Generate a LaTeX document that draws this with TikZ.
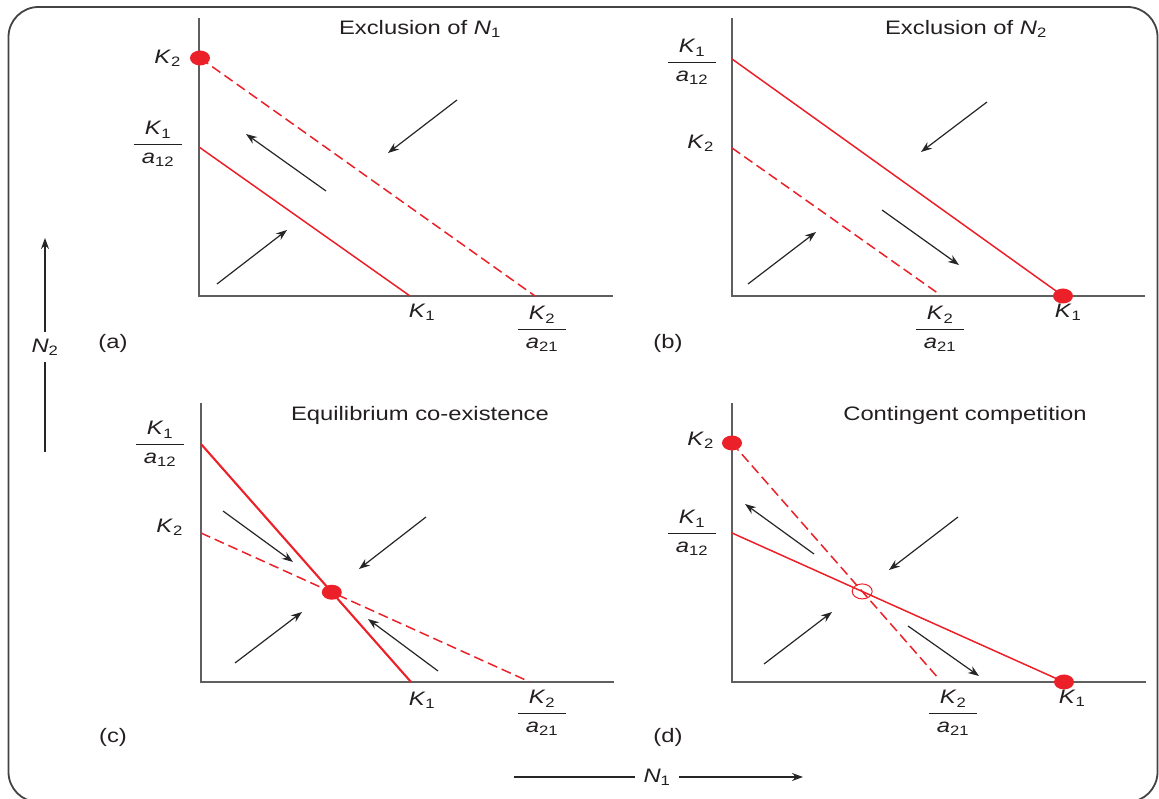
\documentclass[tikz,border=0pt]{standalone}
\usepackage{fontspec}
\setmainfont{Liberation Sans}[FakeStretch=1.22]
\usetikzlibrary{positioning,arrows.meta,shapes.geometric}
\definecolor{isored}{RGB}{236,32,40}
\definecolor{axgray}{RGB}{95,95,95}
\definecolor{ink}{RGB}{35,31,32}
\newcommand{\Kk}[1]{\textit{K}\textsubscript{#1}}
\newcommand{\acf}[1]{\textit{a}\textsubscript{#1}}
\newcommand{\Nn}[1]{\textit{N}\textsubscript{#1}}
\newcommand{\ratio}[2]{\begin{tabular}{@{\hspace{8pt}}c@{\hspace{8pt}}}#1\\[2pt]\hline\rule{0pt}{19pt}#2\end{tabular}}
\setlength{\arrayrulewidth}{1.2pt}

\begin{document}
\begin{tikzpicture}[x=1pt,y=1pt,
  lbl/.style={font=\fontsize{19.5}{22}\selectfont,text=ink,inner sep=1pt},
  ax/.style={draw=axgray,line width=1.6pt},
  iso/.style={draw=isored,line width=1.5pt},
  isod/.style={iso,dash pattern=on 10pt off 5pt},
  flow/.style={-{Stealth[length=11pt,width=8pt]},line width=1.2pt,draw=black!85},
  stab/.style={ellipse,fill=isored,inner sep=0pt,minimum width=20pt,minimum height=15pt},
  unst/.style={ellipse,draw=isored,line width=1pt,inner sep=0pt,minimum width=20pt,minimum height=15pt}
]
\useasboundingbox (0,0) rectangle (1159,798);
\draw[draw=axgray!70!black,line width=1.8pt,rounded corners=30pt] (8.5,-4) rectangle (1157.5,791);

% global axis labels
\node[lbl,outer sep=8pt] (n1) at (657,21) {\Nn{1}};
\coordinate (n1s) at (514,21);
\coordinate (n1e) at (803,21);
\draw[line width=1.1pt,draw=black!85] (n1s) -- (n1.west);
\draw[flow] (n1.east) -- (n1e);
\node[lbl,outer sep=6pt] (n2) at (45,451) {\Nn{2}};
\coordinate (n2s) at (45,346);
\coordinate (n2e) at (45,560);
\draw[line width=1.1pt,draw=black!85] (n2s) -- (n2.south);
\draw[flow] (n2.north) -- (n2e);

% (a) exclusion of N1
\begin{scope}[shift={(199,502)}]
\coordinate (oa) at (0,0);
\coordinate (ya) at (0,278);
\coordinate (xa) at (414,0);
\draw[ax] (ya) -- (oa) -- (xa);
\coordinate (k1ya) at (0,149);
\coordinate (k1xa) at (211,0);
\coordinate (k2ya) at (1,238);
\coordinate (k2xa) at (336,0);
\draw[iso] (k1ya) -- (k1xa);
\draw[isod] (k2ya) -- (k2xa);
\node[stab] (eqa) at (k2ya) {};
\foreach \p/\q/\r/\s in {258/196/189/143, 127/105/47/162, 18/12/88/66}
  \draw[flow] (\p,\q) -- (\r,\s);
\node[lbl,anchor=east] (lk2a) at (-17,238) {\Kk{2}};
\node[lbl] (lr1a) at (-41,151) {\ratio{\Kk{1}}{\acf{12}}};
\node[lbl] (lk1a) at (223,-16) {\Kk{1}};
\node[lbl] (lr2a) at (343,-34) {\ratio{\Kk{2}}{\acf{21}}};
\node[lbl] (taga) at (-86,-47) {(a)};
\node[lbl] (ttla) at (221,267) {Exclusion of \Nn{1}};
\end{scope}

% (b) exclusion of N2
\begin{scope}[shift={(732,502)}]
\coordinate (ob) at (0,0);
\coordinate (yb) at (0,278);
\coordinate (xb) at (413,0);
\draw[ax] (yb) -- (ob) -- (xb);
\coordinate (k1yb) at (0,237);
\coordinate (k1xb) at (331,0);
\coordinate (k2yb) at (0,148);
\coordinate (k2xb) at (207,2);
\draw[iso] (k1yb) -- (k1xb);
\draw[isod] (k2yb) -- (k2xb);
\node[stab] (eqb) at (k1xb) {};
\foreach \p/\q/\r/\s in {255/194/189/144, 150/86/227/31, 16/12/84/64}
  \draw[flow] (\p,\q) -- (\r,\s);
\node[lbl] (lr1b) at (-40,233) {\ratio{\Kk{1}}{\acf{12}}};
\node[lbl,anchor=east] (lk2b) at (-17,153) {\Kk{2}};
\node[lbl] (lr2b) at (208,-34) {\ratio{\Kk{2}}{\acf{21}}};
\node[lbl] (lk1b) at (336,-16) {\Kk{1}};
\node[lbl] (tagb) at (-64,-47) {(b)};
\node[lbl] (ttlb) at (234,267) {Exclusion of \Nn{2}};
\end{scope}

% (c) equilibrium co-existence
\begin{scope}[shift={(201,116)}]
\coordinate (oc) at (0,0);
\coordinate (yc) at (0,279);
\coordinate (xc) at (413,0);
\draw[ax] (yc) -- (oc) -- (xc);
\coordinate (k1yc) at (0,238);
\coordinate (k1xc) at (210,0);
\coordinate (k2yc) at (0,149);
\coordinate (k2xc) at (329,0);
\draw[iso,line width=2.1pt] (k1yc) -- (k1xc);
\draw[isod] (k2yc) -- (k2xc);
\node[stab] (eqc) at (intersection of k1yc--k1xc and k2yc--k2xc) {};
\foreach \p/\q/\r/\s in {22/171/92/120, 225/165/158/113, 34/19/101/70, 237/11/167/63}
  \draw[flow] (\p,\q) -- (\r,\s);
\node[lbl] (lr1c) at (-41,237) {\ratio{\Kk{1}}{\acf{12}}};
\node[lbl,anchor=east] (lk2c) at (-17,155) {\Kk{2}};
\node[lbl] (lk1c) at (221,-18) {\Kk{1}};
\node[lbl] (lr2c) at (341,-32) {\ratio{\Kk{2}}{\acf{21}}};
\node[lbl] (tagc) at (-88,-55) {(c)};
\node[lbl] (ttlc) at (219,267) {Equilibrium co-existence};
\end{scope}

% (d) contingent competition
\begin{scope}[shift={(732,116)}]
\coordinate (od) at (0,0);
\coordinate (yd) at (0,279);
\coordinate (xd) at (414,0);
\draw[ax] (yd) -- (od) -- (xd);
\coordinate (k1yd) at (0,149);
\coordinate (k1xd) at (332,0);
\coordinate (k2yd) at (0,239);
\coordinate (k2xd) at (207,3);
\draw[iso] (k1yd) -- (k1xd);
\draw[isod] (k2yd) -- (k2xd);
\node[stab] (eqd1) at (k2yd) {};
\node[stab] (eqd2) at (k1xd) {};
\node[unst] (sad) at (intersection of k1yd--k1xd and k2yd--k2xd) {};
\foreach \p/\q/\r/\s in {82/128/13/178, 226/165/157/112, 32/18/100/70, 176/56/247/6}
  \draw[flow] (\p,\q) -- (\r,\s);
\node[lbl,anchor=east] (lk2d) at (-17,242) {\Kk{2}};
\node[lbl] (lr1d) at (-40,148) {\ratio{\Kk{1}}{\acf{12}}};
\node[lbl] (lr2d) at (221,-32) {\ratio{\Kk{2}}{\acf{21}}};
\node[lbl] (lk1d) at (340,-16) {\Kk{1}};
\node[lbl] (tagd) at (-64,-55) {(d)};
\node[lbl] (ttld) at (233,267) {Contingent competition};
\end{scope}
\end{tikzpicture}
\end{document}
